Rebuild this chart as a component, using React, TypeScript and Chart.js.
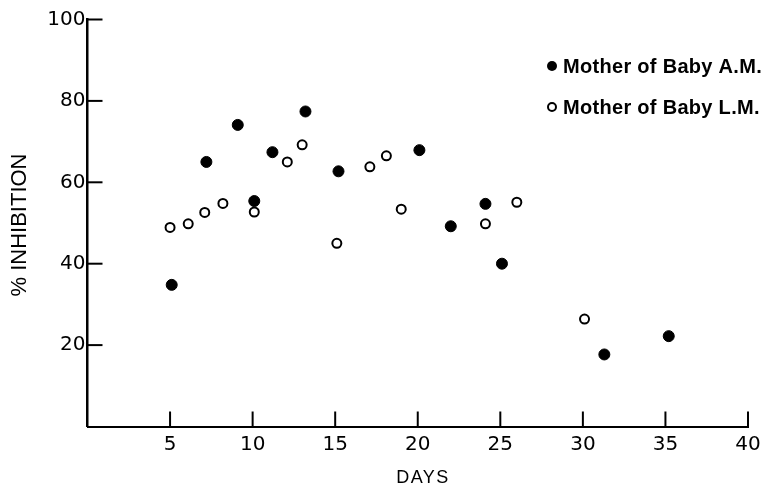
import React, { useEffect, useRef } from "react";
import { Chart, registerables } from "chart.js";

Chart.register(...registerables);

const seriesLabels = ["Mother of Baby A.M.", "Mother of Baby L.M."];
const daysAM = [5.1, 7.2, 9.1, 10.1, 11.2, 13.2, 15.2, 20.1, 22.0, 24.1, 25.1, 31.3, 35.2];
const inhibAM = [34.8, 65.0, 74.1, 55.4, 67.4, 77.4, 62.7, 67.9, 49.2, 54.7, 40.0, 17.7, 22.2];
const daysLM = [5.0, 6.1, 7.1, 8.2, 10.1, 12.1, 13.0, 15.1, 17.1, 18.1, 19.0, 24.1, 26.0, 30.1];
const inhibLM = [48.9, 49.8, 52.6, 54.8, 52.7, 65.0, 69.2, 45.0, 63.8, 66.5, 53.4, 49.8, 55.1, 26.4];
const xTickValues = [5, 10, 15, 20, 25, 30, 35, 40];
const yTickValues = [20, 40, 60, 80, 100];
const xTitle = "DAYS";
const yTitle = "% INHIBITION";

const decorPlugin = {
  id: "decor",
  afterDraw(chart: any) {
    const ctx = chart.ctx as CanvasRenderingContext2D;
    const xs = chart.scales.x;
    const ys = chart.scales.y;
    const area = chart.chartArea;
    ctx.save();
    ctx.strokeStyle = "#000";
    ctx.lineWidth = 2;
    // inward ticks
    yTickValues.forEach((v) => {
      const py = ys.getPixelForValue(v);
      ctx.beginPath();
      ctx.moveTo(area.left, py);
      ctx.lineTo(area.left + 15, py);
      ctx.stroke();
    });
    xTickValues.forEach((v) => {
      const px = xs.getPixelForValue(v);
      ctx.beginPath();
      ctx.moveTo(px, area.bottom);
      ctx.lineTo(px, area.bottom - 15);
      ctx.stroke();
    });
    // axis titles
    ctx.fillStyle = "#000";
    ctx.textAlign = "center";
    ctx.textBaseline = "middle";
    ctx.font = "18px 'Liberation Sans'";
    (ctx as any).letterSpacing = "1.5px";
    ctx.fillText(xTitle, 423, 478);
    ctx.save();
    ctx.translate(20, 225);
    ctx.rotate(-Math.PI / 2);
    ctx.font = "22px 'Liberation Sans'";
    (ctx as any).letterSpacing = "0px";
    ctx.fillText(yTitle, 0, 0);
    ctx.restore();
    // legend
    (ctx as any).letterSpacing = "0.3px";
    ctx.font = "bold 20px 'Liberation Sans'";
    ctx.textAlign = "left";
    ctx.textBaseline = "alphabetic";
    const rows = [
      { y: 66, base: 73 },
      { y: 107, base: 114 },
    ];
    chart.data.datasets.forEach((ds: any, i: number) => {
      const idx = ds.label === seriesLabels[0] ? 0 : 1;
      const r = rows[idx];
      ctx.beginPath();
      ctx.arc(552, r.y, idx === 0 ? 5 : 4, 0, Math.PI * 2);
      ctx.fillStyle = ds.backgroundColor;
      ctx.fill();
      ctx.lineWidth = 2;
      ctx.strokeStyle = ds.borderColor;
      if (idx === 1) ctx.stroke();
      ctx.fillStyle = "#000";
      ctx.fillText(ds.label, 563, r.base);
    });
    ctx.restore();
  },
};

export default function App() {
  const ref = useRef<HTMLCanvasElement>(null);
  useEffect(() => {
    if (!ref.current) return;
    const tickFont = { family: "'DejaVu Sans'", size: 20 };
    const chart = new Chart(ref.current, {
      type: "scatter",
      data: {
        datasets: [
          {
            label: seriesLabels[1],
            data: daysLM.map((d, i) => ({ x: d, y: inhibLM[i] })),
            backgroundColor: "#fff",
            borderColor: "#000",
            borderWidth: 2,
            pointRadius: 4.5,
          },
          {
            label: seriesLabels[0],
            data: daysAM.map((d, i) => ({ x: d, y: inhibAM[i] })),
            backgroundColor: "#000",
            borderColor: "#000",
            borderWidth: 1,
            pointRadius: 5.5,
          },
        ],
      },
      options: {
        animation: false,
        responsive: false,
        devicePixelRatio: 1,
        layout: { padding: { top: 19.5, right: 31, bottom: 0, left: 0 } },
        plugins: { legend: { display: false }, tooltip: { enabled: false } },
        scales: {
          x: {
            type: "linear",
            min: 0,
            max: 40,
            afterFit: (s: any) => {
              s.height = 59.5;
            },
            ticks: {
              stepSize: 5,
              color: "#000",
              font: tickFont,
              padding: 6,
              maxRotation: 0,
              callback: (v: any) => (xTickValues.includes(Number(v)) ? String(v) : ""),
            },
            grid: { display: false, drawTicks: false },
            border: { display: true, color: "#000", width: 2 },
          },
          y: {
            type: "linear",
            min: 0,
            max: 100,
            afterFit: (s: any) => {
              s.width = 87.5;
            },
            ticks: {
              stepSize: 20,
              color: "#000",
              font: tickFont,
              padding: 2,
              callback: (v: any) => (yTickValues.includes(Number(v)) ? String(v) : ""),
            },
            grid: { display: false, drawTicks: false },
            border: { display: true, color: "#000", width: 2.5 },
          },
        },
      },
      plugins: [decorPlugin],
    });
    return () => chart.destroy();
  }, []);
  return (
    <div style={{ position: "fixed", left: 0, top: 0, width: 779, height: 486, background: "#fff" }}>
      <canvas ref={ref} width={779} height={486} style={{ width: 779, height: 486 }} />
    </div>
  );
}
